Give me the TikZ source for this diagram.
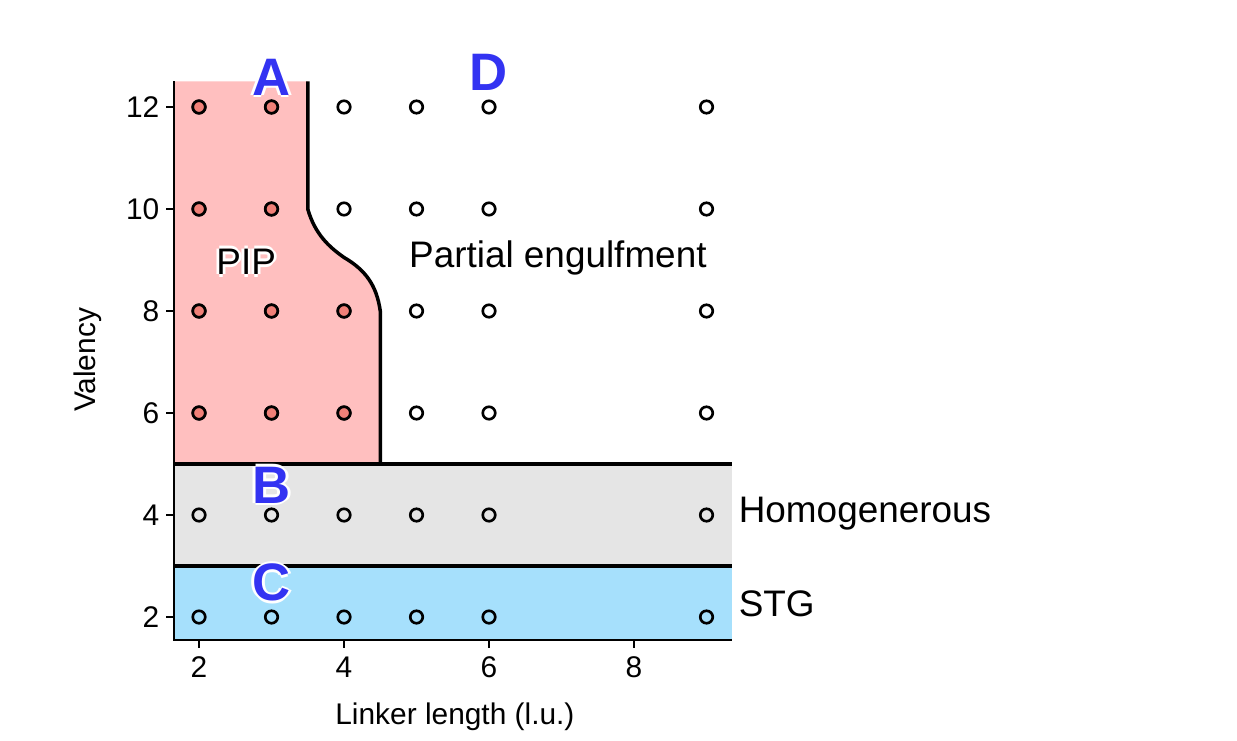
\documentclass[tikz,border=0pt]{standalone}
\usepackage{fontspec}
\setmainfont{Liberation Sans}
\usetikzlibrary{positioning, calc}
\definecolor{pipred}{rgb}{1.0, 0.75, 0.75}
\definecolor{pipdot}{rgb}{0.94, 0.5, 0.47}
\definecolor{homgrey}{rgb}{0.9, 0.9, 0.9}
\definecolor{stgblue}{rgb}{0.65, 0.88, 0.99}
\definecolor{lblblue}{rgb}{0.2, 0.2, 0.95}
\tikzset{pt/.style={draw, circle, line width=1.5pt, inner sep=0pt, minimum size=0.25cm}}
\tikzset{ptpip/.style={pt, fill=pipdot}}
\tikzset{bound/.style={line width=2pt}}
\tikzset{spine/.style={line width=1pt}}
\tikzset{ticklbl/.style={font=\fontsize{17}{19}\selectfont}}
\tikzset{region/.style={font=\fontsize{21}{24}\selectfont}}
\tikzset{letter/.style={font=\fontsize{30}{32}\selectfont\bfseries}}
\newcommand{\outlined}[3]{%
  \foreach \dx/\dy in {1/0,-1/0,0/1,0/-1}
    \node [#1, text=white] at ($(#2)+(\dx*1.6pt,\dy*1.6pt)$) {#3};
}

\begin{document}
\begin{tikzpicture}[x=1.45cm, y=1.02cm]
        \useasboundingbox (-0.745, -0.412) rectangle (16.317, 14.098);

        % regions
        \fill [pipred] (1.655, 5) -- (1.655, 12.5) -- (3.5, 12.5) -- (3.5, 10)
            .. controls (3.6, 9.5) and (3.8, 9.25) .. (4, 9.05)
            .. controls (4.3, 8.8) and (4.45, 8.5) .. (4.5, 8) -- (4.5, 5) -- cycle;
        \fill [homgrey] (1.655, 3) rectangle (9.345, 5);
        \fill [stgblue] (1.655, 1.55) rectangle (9.345, 3);

        \draw [bound] (3.5, 12.5) -- (3.5, 10)
            .. controls (3.6, 9.5) and (3.8, 9.25) .. (4, 9.05)
            .. controls (4.3, 8.8) and (4.45, 8.5) .. (4.5, 8) -- (4.5, 5);
        \draw [bound] (1.655, 5) -- (9.345, 5);
        \draw [bound] (1.655, 3) -- (9.345, 3);

        % axes
        \draw [spine] (1.655, 12.5) -- (1.655, 1.55) -- (9.345, 1.55);
        \foreach \y in {2, 4, ..., 12}
            \draw [spine] (1.655, \y) -- ++(-0.11, 0) node [ticklbl, left] {\y};
        \foreach \x in {2, 4, 6, 8}
            \draw [spine] (\x, 1.55) -- ++(0, -0.16) node [ticklbl, below=1pt] {\x};
        \node [ticklbl, rotate=90] (ylab) at (0.47, 7.04) {Valency};
        \node [ticklbl] (xlab) at (5.53, 0.04) {Linker length (l.u.)};

        % data points
        \foreach \x in {2, 3, 4, 5, 6, 9}
            \foreach \y in {2, 4, ..., 12}
                \node [pt] (P\x-\y) at (\x, \y) {};
        \foreach \x/\y in {2/12, 3/12, 2/10, 3/10, 2/8, 3/8, 4/8, 2/6, 3/6, 4/6}
            \node [ptpip] at (\x, \y) {};

        % labels
        \coordinate (cpip) at (2.65, 8.96);
        \outlined{region}{cpip}{PIP}
        \node [region] (pip) at (cpip) {PIP};
        \node [region] (partial) at (6.95, 9.04) {Partial engulfment};
        \node [region, anchor=west] (homog) at (9.36, 4.02) {Homogenerous};
        \node [region, anchor=west] (stg) at (9.36, 2.25) {STG};

        \coordinate (cA) at (3, 12.59);
        \coordinate (cB) at (3, 4.59);
        \coordinate (cC) at (3, 2.67);
        \coordinate (cD) at (6, 12.67);
        \foreach \c/\l in {cA/A, cB/B, cC/C, cD/D} {
            \outlined{letter}{\c}{\l}
            \node [letter, text=lblblue] at (\c) {\l};
        }
    \end{tikzpicture}
\end{document}
